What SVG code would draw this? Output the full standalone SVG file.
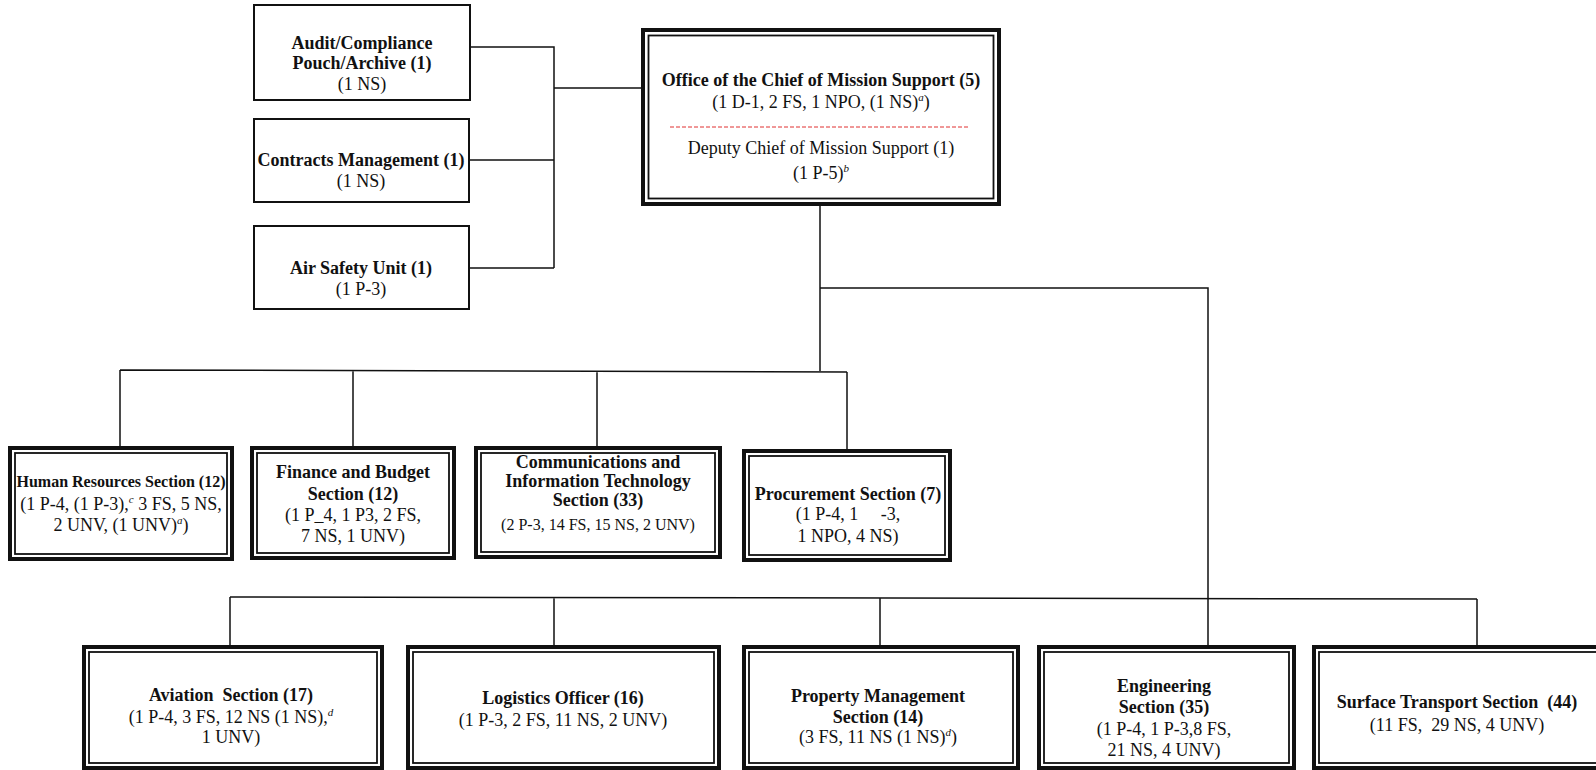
<svg xmlns="http://www.w3.org/2000/svg" width="1596" height="770" viewBox="0 0 1596 770">
<style>
text{font-family:"Liberation Serif","Times New Roman",serif;font-size:18px;text-anchor:middle;fill:#111;white-space:pre}
.b{font-weight:bold}
.s{font-size:16px}
.sup{font-size:11px;font-style:italic}
.single{fill:#fff;stroke:#111;stroke-width:2}
.outer{fill:#fff;stroke:#111;stroke-width:4}
.inner{fill:none;stroke:#111;stroke-width:1.8}
.conn{fill:none;stroke:#111;stroke-width:1.5}
</style>
<rect width="1596" height="770" fill="#fff"/>
<g id="connectors">
<path class="conn" d="M470,47H554V268M469,160H554M469,268H554M554,88H643"/>
<path class="conn" d="M820,204V371M820,288H1208V647"/>
<path class="conn" d="M120,370L847,372M120,370V448M353,371V448M597,371V448M847,372V451"/>
<path class="conn" d="M230,597L1477,599M230,597V647M554,597V647M880,598V647M1477,599V647"/>
</g>
<g id="audit">
<rect class="single" x="254" y="5" width="216" height="95"/>
<text class="b" x="362" y="49">Audit/Compliance</text>
<text class="b" x="362" y="69">Pouch/Archive (1)</text>
<text x="362" y="90">(1 NS)</text>
</g>
<g id="contracts">
<rect class="single" x="254" y="119" width="215" height="83"/>
<text class="b" x="361" y="166">Contracts Management (1)</text>
<text x="361" y="187">(1 NS)</text>
</g>
<g id="airsafety">
<rect class="single" x="254" y="226" width="215" height="83"/>
<text class="b" x="361" y="274">Air Safety Unit (1)</text>
<text x="361" y="295">(1 P-3)</text>
</g>
<g id="office">
<rect class="outer" x="643" y="30" width="356" height="174"/>
<rect class="inner" x="648.5" y="35.5" width="345" height="163"/>
<text class="b" x="821" y="86">Office of the Chief of Mission Support (5)</text>
<text x="821" y="108">(1 D-1, 2 FS, 1 NPO, (1 NS)<tspan class="sup" dy="-7">a</tspan><tspan dy="7">)</tspan></text>
<line x1="670" y1="127" x2="969" y2="127" stroke="#e03030" stroke-width="1" stroke-dasharray="4,2"/>
<text x="821" y="154">Deputy Chief of Mission Support (1)</text>
<text x="821" y="179">(1 P-5)<tspan class="sup" dy="-7">b</tspan></text>
</g>
<g id="hr">
<rect class="outer" x="10" y="448" width="222" height="111"/>
<rect class="inner" x="15" y="453" width="212" height="101"/>
<text class="b s" x="121" y="487">Human Resources Section (12)</text>
<text x="121" y="510">(1 P-4, (1 P-3),<tspan class="sup" dy="-7">c</tspan><tspan dy="7"> 3 FS, 5 NS,</tspan></text>
<text x="121" y="531">2 UNV, (1 UNV)<tspan class="sup" dy="-7">a</tspan><tspan dy="7">)</tspan></text>
</g>
<g id="finance">
<rect class="outer" x="252" y="448" width="202" height="110"/>
<rect class="inner" x="257" y="453" width="192" height="100"/>
<text class="b" x="353" y="478">Finance and Budget</text>
<text class="b" x="353" y="500">Section (12)</text>
<text x="353" y="521">(1 P_4, 1 P3, 2 FS,</text>
<text x="353" y="542">7 NS, 1 UNV)</text>
</g>
<g id="cit">
<rect class="outer" x="476" y="448" width="244" height="109"/>
<rect class="inner" x="481" y="453" width="234" height="99"/>
<text class="b" x="598" y="468">Communications and</text>
<text class="b" x="598" y="487">Information Technology</text>
<text class="b" x="598" y="506">Section (33)</text>
<text class="s" x="598" y="530">(2 P-3, 14 FS, 15 NS, 2 UNV)</text>
</g>
<g id="procurement">
<rect class="outer" x="744" y="451" width="206" height="109"/>
<rect class="inner" x="749" y="456" width="196" height="99"/>
<text class="b" x="848" y="500">Procurement Section (7)</text>
<text x="848" y="520">(1 P-4, 1     -3,</text>
<text x="848" y="542">1 NPO, 4 NS)</text>
</g>
<g id="aviation">
<rect class="outer" x="84" y="647" width="298" height="121"/>
<rect class="inner" x="89" y="652" width="288" height="111"/>
<text class="b" x="231" y="701">Aviation  Section (17)</text>
<text x="231" y="723">(1 P-4, 3 FS, 12 NS (1 NS),<tspan class="sup" dy="-7">d</tspan></text>
<text x="231" y="743">1 UNV)</text>
</g>
<g id="logistics">
<rect class="outer" x="408" y="647" width="311" height="121"/>
<rect class="inner" x="413" y="652" width="301" height="111"/>
<text class="b" x="563" y="704">Logistics Officer (16)</text>
<text x="563" y="726">(1 P-3, 2 FS, 11 NS, 2 UNV)</text>
</g>
<g id="property">
<rect class="outer" x="744" y="647" width="274" height="121"/>
<rect class="inner" x="749" y="652" width="264" height="111"/>
<text class="b" x="878" y="702">Property Management</text>
<text class="b" x="878" y="723">Section (14)</text>
<text x="878" y="743">(3 FS, 11 NS (1 NS)<tspan class="sup" dy="-7">d</tspan><tspan dy="7">)</tspan></text>
</g>
<g id="engineering">
<rect class="outer" x="1039" y="647" width="255" height="121"/>
<rect class="inner" x="1044" y="652" width="245" height="111"/>
<text class="b" x="1164" y="692">Engineering</text>
<text class="b" x="1164" y="713">Section (35)</text>
<text x="1164" y="735">(1 P-4, 1 P-3,8 FS,</text>
<text x="1164" y="756">21 NS, 4 UNV)</text>
</g>
<g id="surface">
<rect class="outer" x="1314" y="647" width="296" height="121"/>
<rect class="inner" x="1319" y="652" width="286" height="111"/>
<text class="b" x="1457" y="708">Surface Transport Section  (44)</text>
<text x="1457" y="731">(11 FS,  29 NS, 4 UNV)</text>
</g>
</svg>
